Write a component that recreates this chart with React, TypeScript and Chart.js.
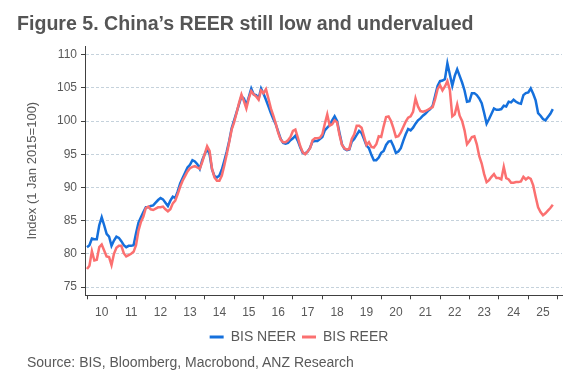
import React, { useEffect, useRef } from "react";
import { Chart, registerables } from "chart.js";

Chart.register(...registerables);

// ---- Data (monthly, starting Jan 2010) ----
const START_YEAR = 2010;

const NEER = [
  // 2010
  81.0, 81.3, 82.3, 82.2, 82.2, 84.3, 85.5, 84.3, 83.0, 82.6, 81.2, 82.0,
  // 2011
  82.6, 82.4, 81.9, 81.3, 81.0, 81.2, 81.2, 81.3, 83.1, 84.7, 85.5, 86.3,
  // 2012
  87.0, 87.0, 87.2, 87.3, 87.7, 88.1, 88.4, 88.2, 87.7, 87.2, 88.0, 88.6,
  // 2013
  88.4, 89.4, 90.6, 91.4, 92.2, 93.0, 93.4, 94.1, 93.9, 93.5, 92.8, 94.1,
  // 2014
  95.0, 95.8, 95.0, 92.7, 91.7, 91.5, 91.8, 92.7, 94.0, 95.4, 97.0, 98.9,
  // 2015
  100.1, 101.3, 102.5, 103.7, 103.4, 102.4, 103.6, 104.9, 104.0, 103.9, 103.4, 104.9,
  // 2016
  104.1, 103.2, 102.2, 101.2, 100.3, 99.5, 98.4, 97.3, 96.7, 96.6, 96.7, 97.1,
  // 2017
  97.4, 97.8, 97.0, 96.0, 95.2, 95.1, 95.4, 96.0, 96.9, 97.0, 97.0, 97.3,
  // 2018
  97.6, 98.6, 99.0, 99.4, 100.1, 100.7, 100.0, 98.2, 96.5, 95.8, 95.6, 95.7,
  // 2019
  96.9, 97.3, 97.9, 98.5, 98.2, 97.3, 96.3, 95.9, 94.9, 94.1, 94.1, 94.5,
  // 2020
  95.2, 95.5, 96.4, 96.9, 97.0, 96.2, 95.2, 95.4, 95.9, 97.0, 98.0, 98.8,
  // 2021
  98.6, 99.0, 99.6, 100.1, 100.4, 100.8, 101.1, 101.5, 101.8, 102.3, 103.8, 105.3,
  // 2022
  106.0, 106.1, 106.3, 108.7, 107.0, 105.3, 106.8, 107.8, 106.8, 105.8, 104.6, 102.9,
  // 2023
  103.0, 104.2, 104.2, 103.9, 103.4, 102.7, 101.2, 99.6, 100.3, 101.1, 101.9, 101.7,
  // 2024
  101.7, 101.8, 102.3, 102.2, 102.9, 102.8, 103.2, 102.9, 102.7, 102.6, 103.9, 104.2,
  // 2025
  104.3, 104.9, 104.1, 103.1, 101.2, 100.8, 100.3, 100.1, 100.6, 101.1, 101.8,
];

const REER = [
  // 2010
  77.7, 78.2, 80.4, 79.0, 79.1, 81.0, 81.4, 80.5, 79.6, 79.5, 78.3, 80.0,
  // 2011
  80.9, 81.2, 81.2, 80.1, 79.6, 79.8, 80.0, 80.3, 81.3, 83.5, 84.8, 85.6,
  // 2012
  86.9, 87.1, 86.7, 86.6, 86.8, 87.0, 87.0, 87.1, 86.7, 86.4, 86.7, 87.6,
  // 2013
  88.0, 89.0, 90.1, 91.0, 91.7, 92.4, 92.9, 93.1, 93.2, 93.0, 92.8, 93.8,
  // 2014
  95.0, 96.2, 95.5, 92.8, 91.5, 91.0, 91.0, 91.8, 93.3, 95.0, 96.8, 98.7,
  // 2015
  99.8, 101.2, 102.7, 104.0, 103.0, 101.9, 103.4, 104.5, 104.0, 103.7, 103.2, 104.6,
  // 2016
  104.2, 104.8, 103.4, 101.9, 100.8, 99.6, 98.2, 97.2, 96.8, 96.8, 97.1, 97.6,
  // 2017
  98.5, 98.7, 97.5, 96.2, 95.3, 95.0, 95.4, 95.9, 97.1, 97.4, 97.4, 97.5,
  // 2018
  98.0, 99.6, 101.0, 99.3, 99.5, 100.1, 99.8, 97.9, 96.4, 95.9, 95.7, 95.8,
  // 2019
  97.3, 98.0, 99.3, 99.3, 99.0, 97.7, 96.4, 96.8, 96.1, 96.0, 96.5, 97.7,
  // 2020
  97.6, 99.2, 100.6, 100.7, 100.0, 98.9, 97.6, 97.7, 98.3, 99.1, 99.9, 100.5,
  // 2021
  100.7, 101.4, 103.4, 102.2, 101.5, 101.4, 101.5, 101.7, 101.9, 102.1, 103.3, 104.8,
  // 2022
  105.4, 104.6, 105.2, 106.0, 104.7, 100.7, 101.0, 102.5, 100.8, 100.0, 98.6, 96.5,
  // 2023
  97.0, 97.6, 97.7, 96.5, 94.7, 93.6, 92.0, 90.8, 91.1, 91.6, 92.0, 91.4,
  // 2024
  91.4, 91.2, 93.1, 91.4, 91.2, 90.7, 90.7, 90.8, 90.8, 90.9, 91.6, 91.2,
  // 2025
  91.5, 91.3, 90.3, 88.6, 87.0, 86.3, 85.8, 86.1, 86.5, 86.9, 87.4,
];

const SERIES_NAMES = ["BIS NEER", "BIS REER"];
const SERIES_COLORS = ["#1570dc", "#fb7070"];

const YEAR_LABELS = ["10", "11", "12", "13", "14", "15", "16", "17", "18", "19", "20", "21", "22", "23", "24", "25"];
const Y_TICKS = [75, 80, 85, 90, 95, 100, 105, 110];

const TITLE = "Figure 5. China\u2019s REER still low and undervalued";
const Y_TITLE = "Index (1 Jan 2015=100)";
const SOURCE = "Source: BIS, Bloomberg, Macrobond, ANZ Research";

const FONT = "'Liberation Sans', Arial, Helvetica, sans-serif";
const TEXT_COLOR = "#595959";

export default function App() {
  const ref = useRef<HTMLCanvasElement | null>(null);

  useEffect(() => {
    if (!ref.current) return;
    Chart.defaults.font.family = FONT;
    const toPts = (arr: number[]) => arr.map((v, i) => ({ x: START_YEAR + i / 12, y: v }));

    const chart = new Chart(ref.current, {
      type: "line",
      data: {
        datasets: [
          {
            label: SERIES_NAMES[0],
            data: toPts(NEER),
            borderColor: SERIES_COLORS[0],
            backgroundColor: SERIES_COLORS[0],
            borderWidth: 2.5,
            pointRadius: 0,
            tension: 0,
            order: 1,
          },
          {
            label: SERIES_NAMES[1],
            data: toPts(REER),
            borderColor: SERIES_COLORS[1],
            backgroundColor: SERIES_COLORS[1],
            borderWidth: 2.5,
            pointRadius: 0,
            tension: 0,
            order: 0,
          },
        ],
      },
      options: {
        responsive: false,
        animation: false,
        devicePixelRatio: 1,
        layout: { padding: { left: 16, right: 6, top: 46, bottom: 25 } },
        plugins: {
          title: { display: false },
          tooltip: { enabled: false },
          legend: {
            position: "bottom",
            labels: {
              boxWidth: 14,
              boxHeight: 3,
              padding: 6,
              color: TEXT_COLOR,
              font: { size: 14 },
              sort: (a: any, b: any) => a.datasetIndex - b.datasetIndex,
              generateLabels: (c: any) =>
                c.data.datasets.map((ds: any, i: number) => ({
                  text: ds.label,
                  fillStyle: ds.borderColor,
                  strokeStyle: ds.borderColor,
                  lineWidth: 0,
                  hidden: false,
                  datasetIndex: i,
                  fontColor: TEXT_COLOR,
                })),
            },
          },
        },
        scales: {
          x: {
            type: "linear",
            min: 2009.932,
            max: 2026.146,
            afterBuildTicks: (s: any) => {
              const t: any[] = [];
              YEAR_LABELS.forEach((_, k) => {
                t.push({ value: START_YEAR + k });
                t.push({ value: START_YEAR + k + 0.5 });
              });
              t.push({ value: START_YEAR + YEAR_LABELS.length });
              s.ticks = t;
            },
            afterFit: (s: any) => {
              s.height = 28.7;
            },
            ticks: {
              autoSkip: false,
              maxRotation: 0,
              padding: 6,
              color: TEXT_COLOR,
              font: { size: 12 },
              callback: (v: any) => {
                const k = Math.floor(Number(v)) - START_YEAR;
                return Number.isInteger(Number(v)) ? "" : YEAR_LABELS[k] ?? "";
              },
            },
            grid: {
              drawOnChartArea: false,
              drawTicks: true,
              tickLength: 4,
              tickColor: (ctx: any) =>
                ctx.tick && Number.isInteger(ctx.tick.value) ? "#404040" : "rgba(0,0,0,0)",
            },
            border: { color: "#404040", width: 1 },
          },
          y: {
            min: 73.75,
            max: 111.3,
            afterBuildTicks: (s: any) => {
              s.ticks = Y_TICKS.map((v) => ({ value: v }));
            },
            afterFit: (s: any) => {
              s.width = 69;
            },
            ticks: { padding: 4, color: TEXT_COLOR, font: { size: 12 } },
            grid: { color: "#c5d2dc", lineWidth: 1, tickLength: 4, tickColor: "#404040" },
            border: { color: "#404040", width: 1, dash: [3, 2] },
            title: {
              display: true,
              text: Y_TITLE,
              color: TEXT_COLOR,
              font: { size: 13 },
              padding: { top: 9, bottom: 0 },
            },
          },
          yRight: {
            position: "right",
            display: true,
            afterFit: (s: any) => {
              s.width = 20;
            },
            grid: { display: false },
            ticks: { display: false },
            border: { display: false },
          },
        },
      },
    } as any);

    return () => chart.destroy();
  }, []);

  return (
    <div style={{ position: "fixed", left: 0, top: 0, width: 588, height: 379, background: "#ffffff" }}>
      <canvas ref={ref} width={588} height={379} style={{ display: "block", position: "absolute", left: 0, top: 0 }} />
      <div
        style={{
          position: "absolute",
          left: 17,
          top: 13,
          font: `bold 19.6px ${FONT}`,
          lineHeight: "20px",
          color: "#555555",
          whiteSpace: "nowrap",
        }}
      >
        {TITLE}
      </div>
      <div
        style={{
          position: "absolute",
          left: 27,
          top: 355,
          font: `14px ${FONT}`,
          lineHeight: "14px",
          color: TEXT_COLOR,
          whiteSpace: "nowrap",
        }}
      >
        {SOURCE}
      </div>
    </div>
  );
}
